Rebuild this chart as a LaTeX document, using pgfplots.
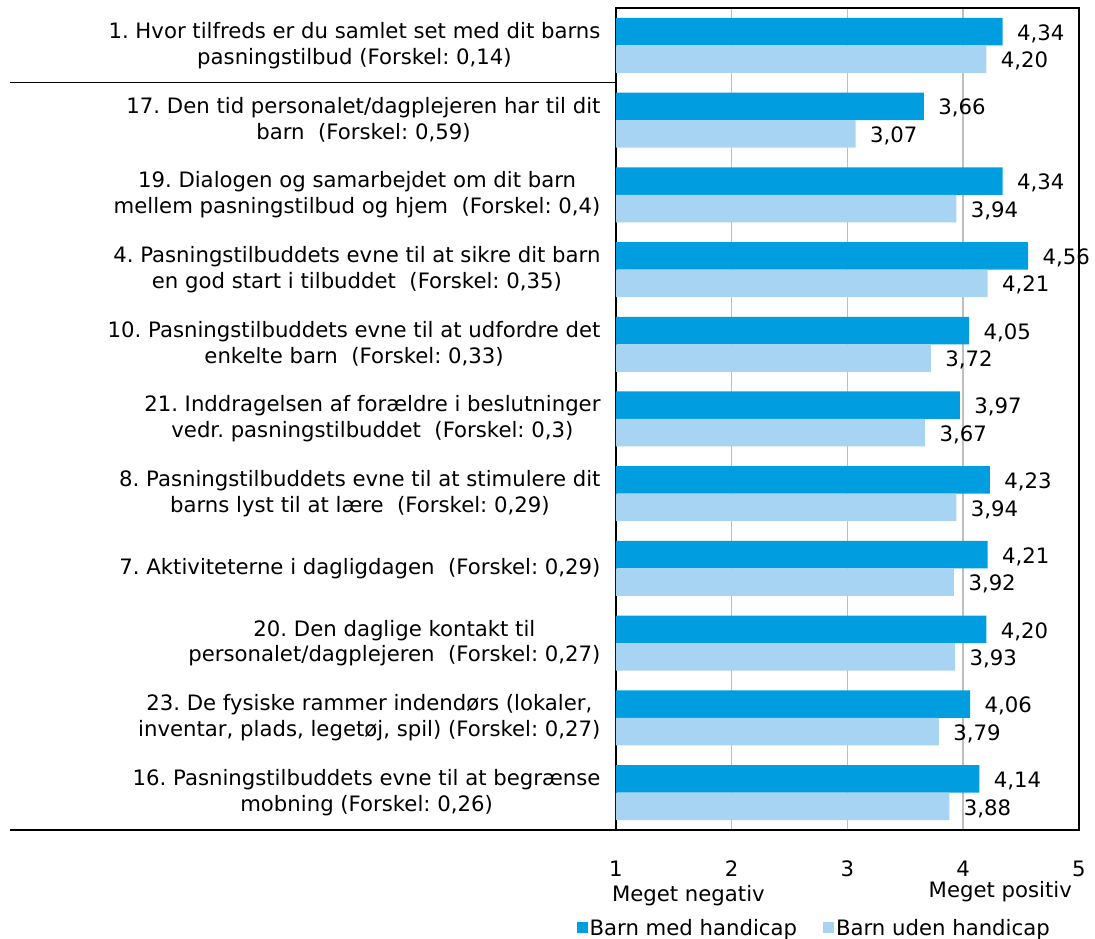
\documentclass[border=0pt]{standalone}
\usepackage{fontspec}
\setmainfont{DejaVu Sans}
\usepackage{pgfplots}
\pgfplotsset{compat=1.18}
\definecolor{darkb}{RGB}{0,158,224}
\definecolor{lightb}{RGB}{168,212,244}
\newcommand{\f}{\fontsize{21.3}{26}\selectfont}
\frenchspacing
\begin{document}
\begin{tikzpicture}
\path[use as bounding box] (-616bp,-109bp) rectangle (479bp,830bp);
\begin{axis}[
  at={(0,0)}, anchor=south west,
  xbar, scale only axis, width=463bp, height=822bp,
  xmin=1, xmax=5, ymin=-0.5, ymax=10.5,
  bar width=27.5bp,
  ytick={0,...,10},
  yticklabels={
    {16. Pasningstilbuddets evne til at begrænse\\mobning (Forskel: 0,26)},
    {23. De fysiske rammer indendørs (lokaler,\\inventar, plads, legetøj, spil) (Forskel: 0,27)},
    {20. Den daglige kontakt til\\personalet/dagplejeren\ \ (Forskel: 0,27)},
    {7. Aktiviteterne i dagligdagen\ \ (Forskel: 0,29)},
    {8. Pasningstilbuddets evne til at stimulere dit\\barns lyst til at lære\ \ (Forskel: 0,29)},
    {21. Inddragelsen af forældre i beslutninger\\vedr. pasningstilbuddet\ \ (Forskel: 0,3)},
    {10. Pasningstilbuddets evne til at udfordre det\\enkelte barn\ \ (Forskel: 0,33)},
    {4. Pasningstilbuddets evne til at sikre dit barn\\en god start i tilbuddet\ \ (Forskel: 0,35)},
    {19. Dialogen og samarbejdet om dit barn\\mellem pasningstilbud og hjem\ \ (Forskel: 0,4)},
    {17. Den tid personalet/dagplejeren har til dit\\barn\ \ (Forskel: 0,59)},
    {1. Hvor tilfreds er du samlet set med dit barns\\pasningstilbud (Forskel: 0,14)}
  },
  yticklabel style={align=center, font=\f, xshift=-12bp},
  xtick={1,...,5},
  xticklabel style={font=\f, inner sep=0pt, yshift=-31bp},
  /pgf/number format/assume math mode=true,
  major tick length=0,
  xmajorgrids, grid style={line width=1.5bp, color=black!25},
  axis line style={line width=1.5bp},
  clip mode=individual,
  nodes near coords={\pgfmathprintnumber[fixed,fixed zerofill,precision=2,use comma,assume math mode=true]{\pgfplotspointmeta}},
  point meta=x,
  nodes near coords style={font=\f, anchor=west, xshift=11bp, yshift=-2bp, black},
  legend style={at={(0.428,-0.119)}, anchor=center, draw=none, font=\f,
    legend columns=2, /tikz/every even column/.append style={column sep=24bp}},
  legend image code/.code={\fill[#1] (-4bp,-5.5bp) rectangle (7bp,5.5bp);},
]
\addplot[fill=darkb, draw=none, bar shift=13.75bp] coordinates {
  (4.14,0) (4.06,1) (4.20,2) (4.21,3) (4.23,4) (3.97,5) (4.05,6) (4.56,7) (4.34,8) (3.66,9) (4.34,10)};
\addlegendentry{Barn med handicap}
\addplot[fill=lightb, draw=none, bar shift=-13.75bp] coordinates {
  (3.88,0) (3.79,1) (3.93,2) (3.92,3) (3.94,4) (3.67,5) (3.72,6) (4.21,7) (3.94,8) (3.07,9) (4.20,10)};
\addlegendentry{Barn uden handicap}
\draw[line width=1.5bp] (axis description cs:-1.309,0.90909) -- (axis description cs:0,0.90909);
\draw[line width=1.5bp] (axis description cs:-1.309,0) -- (axis description cs:0,0);
\node[anchor=west, inner sep=0, font=\f] at (axis description cs:-0.009,-0.0803) {Meget negativ};
\node[anchor=east, inner sep=0, font=\f] at (axis description cs:0.985,-0.0745) {Meget positiv};
\end{axis}
\end{tikzpicture}
\end{document}
